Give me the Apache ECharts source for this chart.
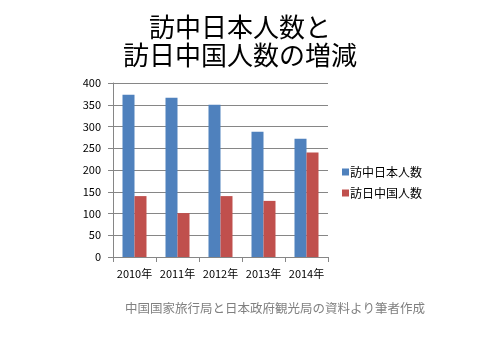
<!DOCTYPE html>
<html><head><meta charset="utf-8">
<script src="https://cdn.jsdelivr.net/npm/echarts@6/dist/echarts.min.js"></script>
<style>html,body{margin:0;padding:0;background:#fff}#c{width:480px;height:360px}</style>
</head><body><div id="c"></div>
<script>
var categories = ['2010年','2011年','2012年','2013年','2014年'];
var japanToChina = [373, 366, 350, 288, 272];
var chinaToJapan = [140, 101, 140, 129, 240];
var seriesNames = ['訪中日本人数','訪日中国人数'];
var titleText = '訪中日本人数と\n訪日中国人数の増減';
var sourceText = '中国国家旅行局と日本政府観光局の資料より筆者作成';
var font = '"Noto Sans CJK JP", "Noto Sans", sans-serif';
var chart = echarts.init(document.getElementById('c'), null, {renderer:'canvas'});
chart.setOption({
  animation: false,
  textStyle: {fontFamily: font},
  title: [{
    text: titleText, left: 'center', top: 8,
    textStyle: {fontSize: 26, fontWeight: 'normal', color: '#000', lineHeight: 28, fontFamily: font}
  }, {
    text: sourceText, left: 120, top: 297,
    textStyle: {fontSize: 12.5, fontWeight: 'normal', color: '#808080', fontFamily: font}
  }],
  legend: {
    orient: 'vertical', left: 337, top: 161, itemWidth: 7, itemHeight: 7, itemGap: 9,
    icon: 'rect',
    textStyle: {fontSize: 12, color: '#000', fontFamily: font, padding: [0,0,0,-4]},
    data: seriesNames
  },
  grid: {left: 113, right: 152, top: 83, bottom: 103, containLabel: false},
  xAxis: {
    type: 'category', data: categories,
    axisLine: {lineStyle: {color: '#868686'}},
    axisTick: {show: true, length: 5, lineStyle: {color: '#868686'}},
    axisLabel: {fontSize: 11, color: '#000', margin: 11, interval: 0, fontFamily: font}
  },
  yAxis: {
    type: 'value', min: 0, max: 400, interval: 50,
    axisLine: {show: true, lineStyle: {color: '#868686'}},
    axisTick: {show: true, length: 5, lineStyle: {color: '#868686'}},
    axisLabel: {fontSize: 11, color: '#000', margin: 12, fontFamily: font},
    splitLine: {lineStyle: {color: '#868686'}}
  },
  series: [{
    name: seriesNames[0], type: 'bar', data: japanToChina, barWidth: 12, barGap: '0%',
    itemStyle: {color: '#4F81BD'}
  }, {
    name: seriesNames[1], type: 'bar', data: chinaToJapan, barWidth: 12, barGap: '0%',
    itemStyle: {color: '#C0504D'}
  }]
});
</script></body></html>
